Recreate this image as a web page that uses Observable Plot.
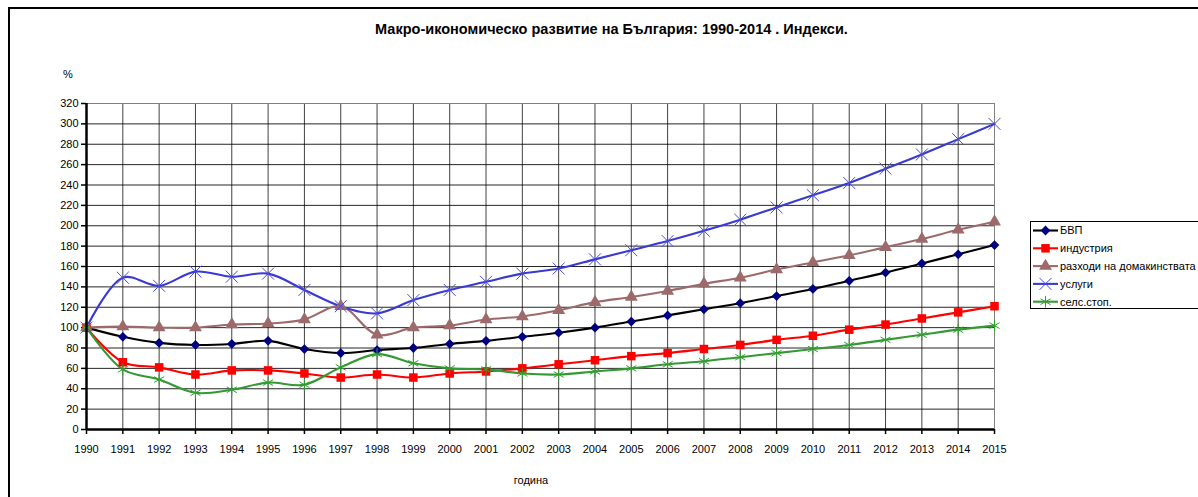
<!DOCTYPE html>
<html>
<head>
<meta charset="utf-8">
<script src="https://cdn.jsdelivr.net/npm/d3@7"></script>
<script src="https://cdn.jsdelivr.net/npm/@observablehq/plot@0.6"></script>
<style>
  html, body { margin: 0; padding: 0; background: #fff; }
  #wrap { position: relative; width: 1198px; height: 497px; overflow: hidden; font-family: "Liberation Sans", Arial, sans-serif; }
  #frame { position: absolute; left: 8px; top: 7px; width: 1400px; height: 700px; border-left: 2px solid #000; border-top: 2px solid #000; box-sizing: border-box; }
  #title { position: absolute; left: 0; width: 1223px; top: 21px; text-align: center; font-weight: bold; font-size: 14.5px; color: #000; }
  #ylab { position: absolute; left: 63px; top: 68px; font-size: 11px; }
  #xlab { position: absolute; left: 0; width: 1062px; top: 474px; text-align: center; font-size: 11px; }
  #chart { position: absolute; left: 0; top: 0; }
  #legend { position: absolute; left: 1030px; top: 221px; }
</style>
</head>
<body>
<div id="wrap">
  <div id="frame"></div>
  <div id="chart"></div>
  <div id="title">Макро-икономическо развитие на България: 1990-2014 . Индекси.</div>
  <div id="ylab">%</div>
  <div id="xlab">година</div>
  <div id="legend"></div>
</div>
<script>
const years = [1990,1991,1992,1993,1994,1995,1996,1997,1998,1999,2000,2001,2002,2003,2004,2005,2006,2007,2008,2009,2010,2011,2012,2013,2014,2015];
const yTicks = [0,20,40,60,80,100,120,140,160,180,200,220,240,260,280,300,320];

const seriesNames = ["БВП", "индустрия", "разходи на домакинствата", "услуги", "селс.стоп."];
const gdp        = [100, 91, 85, 83, 84, 87, 79, 75, 78, 80, 84, 87, 91, 95, 100, 106, 112, 118, 124, 131, 138, 146, 154, 163, 172, 181];
const industry   = [100, 66, 61, 54, 58, 58, 55, 51, 54, 51, 55, 57, 60, 64, 68, 72, 75, 79, 83, 88, 92, 98, 103, 109, 115, 121];
const households = [100, 101, 100, 100, 103, 104, 108, 121, 93, 100, 102, 108, 111, 117, 125, 130, 136, 143, 149, 157, 164, 171, 179, 187, 196, 204];
const services   = [100, 149, 141, 155, 150, 153, 137, 121, 114, 127, 137, 145, 153, 158, 167, 176, 185, 195, 206, 218, 230, 242, 256, 270, 285, 300];
const agri       = [100, 59, 49, 36, 39, 46, 44, 61, 74, 65, 60, 59, 55, 54, 57, 60, 64, 67, 71, 75, 79, 83, 88, 93, 98, 102];

const styles = [
  {values: gdp,        line: "#000000", marker: "#000080", symbol: "diamond2",filled: true,  r: 4.4},
  {values: industry,   line: "#ff0000", marker: "#ff0000", symbol: "square",  filled: true,  r: 4.8},
  {values: households, line: "#9c6a6a", marker: "#9c6a6a", symbol: "triangle",filled: true,  r: 4.8},
  {values: services,   line: "#3a3ad2", marker: "#4a4ae6", symbol: "times",   filled: false, r: 5.5},
  {values: agri,       line: "#339933", marker: "#33a033", symbol: "asterisk",filled: false, r: 5.5}
];

const marks = [
  Plot.gridY(yTicks.filter(d => d > 0 && d < 320), {stroke: "#000", strokeOpacity: 0.85, strokeWidth: 1}),
  Plot.gridX(years.filter(d => d > 1990 && d < 2015), {stroke: "#000", strokeOpacity: 0.75, strokeWidth: 1}),
  Plot.ruleY([320], {stroke: "#808080", strokeWidth: 1}),
  Plot.ruleX([2015], {stroke: "#808080", strokeWidth: 1, y1: 0, y2: 320}),
  Plot.axisX({ticks: years, tickFormat: d => String(d), tickSize: 5, tickPadding: 11, label: null, stroke: "#000", strokeWidth: 1.5}),
  Plot.axisY({ticks: yTicks, tickSize: 5, tickPadding: 3, label: null, stroke: "#000", strokeWidth: 1.5}),
];

styles.forEach((s, i) => {
  const data = years.map((y, j) => ({year: y, value: s.values[j]}));
  marks.push(Plot.line(data, {x: "year", y: "value", stroke: s.line, strokeWidth: 2.1, curve: "catmull-rom"}));
});
styles.forEach((s, i) => {
  const data = years.map((y, j) => ({year: y, value: s.values[j]}));
  if (s.filled) {
    marks.push(Plot.dot(data, {x: "year", y: "value", symbol: s.symbol, r: s.r, fill: s.marker, stroke: "none"}));
  } else {
    marks.push(Plot.dot(data, {x: "year", y: "value", symbol: s.symbol, r: s.r, stroke: s.marker, strokeWidth: 1, fill: "none"}));
  }
});

marks.push(Plot.ruleY([0], {stroke: "#000", strokeWidth: 2.5}));
marks.push(Plot.ruleX([1990], {stroke: "#000", strokeWidth: 2.5}));

const chart = Plot.plot({
  width: 1198,
  height: 497,
  marginLeft: 86,
  marginRight: 204,
  marginTop: 103,
  marginBottom: 68,
  x: {type: "linear", domain: [1990, 2015]},
  y: {domain: [0, 320]},
  style: {fontFamily: "'Liberation Sans', Arial, sans-serif", fontSize: "11px", color: "#000", background: "transparent"},
  marks
});
document.getElementById("chart").appendChild(chart);

// Legend
const lw = 200, lh = 88;
const leg = d3.select("#legend").append("svg").attr("width", lw).attr("height", lh)
  .style("font-family", "'Liberation Sans', Arial, sans-serif").style("font-size", "11px");
leg.append("rect").attr("x", 0.5).attr("y", 0.5).attr("width", lw + 10).attr("height", lh - 1)
  .attr("fill", "#fff").attr("stroke", "#000").attr("stroke-width", 1);
const symMap = {diamond2: d3.symbolDiamond2, square: d3.symbolSquare, triangle: d3.symbolTriangle, times: d3.symbolTimes, asterisk: d3.symbolAsterisk};
styles.forEach((s, i) => {
  const cy = 9.5 + i * 17.8;
  const g = leg.append("g");
  g.append("line").attr("x1", 3).attr("x2", 28).attr("y1", cy).attr("y2", cy).attr("stroke", s.line).attr("stroke-width", 2.1);
  const p = g.append("path").attr("transform", `translate(15.5,${cy})`)
    .attr("d", d3.symbol(symMap[s.symbol], s.r * s.r * Math.PI)());
  if (s.filled) p.attr("fill", s.marker); else p.attr("fill", "none").attr("stroke", s.marker).attr("stroke-width", 1);
  g.append("text").attr("x", 30).attr("y", cy).attr("dy", "0.35em").text(seriesNames[i]);
});
</script>
</body>
</html>
